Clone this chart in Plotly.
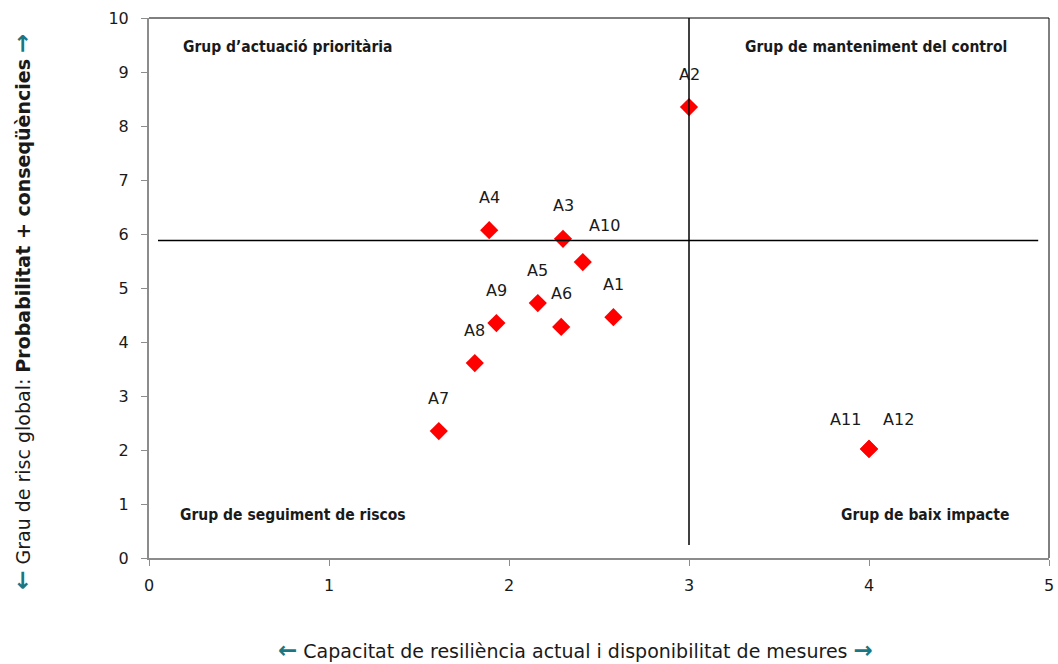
import plotly.graph_objects as go

# Risk assessment items: resilience capacity (x) vs global risk (y)
labels = ["A1", "A2", "A3", "A4", "A5", "A6", "A7", "A8", "A9", "A10", "A11", "A12"]
resilience = [2.58, 3.00, 2.30, 1.89, 2.16, 2.29, 1.61, 1.81, 1.93, 2.41, 4.00, 4.00]
risk = [4.46, 8.35, 5.91, 6.07, 4.72, 4.28, 2.35, 3.61, 4.35, 5.48, 2.02, 2.02]

# Quadrant dividers
risk_threshold = 5.88
resilience_threshold = 3.0

x_ticks = [0, 1, 2, 3, 4, 5]
y_ticks = list(range(0, 11))

quadrant_names = {
    "tl": "Grup d\u2019actuació prioritària",
    "tr": "Grup de manteniment del control",
    "bl": "Grup de seguiment de riscos",
    "br": "Grup de baix impacte",
}

# label offsets in pixels (dx, dy) relative to each marker
label_shift = {
    "A10": (22, 37), "A11": (-24, 29), "A12": (29, 29),
}

ARROW = "#1b7683"
TEXT = "#1a1a1a"
COND = "DejaVu Sans Condensed, DejaVu Sans, sans-serif"
SANS = "DejaVu Sans, sans-serif"


def arrow(ch):
    return f"<span style='color:{ARROW};font-size:23px'><b>{ch}</b></span>"


fig = go.Figure()
fig.add_trace(go.Scatter(
    x=resilience, y=risk, mode="markers",
    marker=dict(symbol="diamond", size=14, color="#ff0000", line=dict(width=0)),
    hovertext=labels, showlegend=False,
))

annotations = []
for lab, xv, yv in zip(labels, resilience, risk):
    dx, dy = label_shift.get(lab, (0, 33))
    annotations.append(dict(
        x=xv, y=yv, xref="x", yref="y", text=lab, showarrow=False,
        xshift=dx, yshift=dy, font=dict(family=SANS, size=16, color=TEXT),
    ))

# quadrant titles
qfont = dict(family=COND, size=15.5, color=TEXT)
annotations += [
    dict(x=0.18, y=9.46, xref="x", yref="y", text="<b>" + quadrant_names["tl"] + "</b>",
         showarrow=False, xanchor="left", font=qfont),
    dict(x=4.78, y=9.46, xref="x", yref="y", text="<b>" + quadrant_names["tr"] + "</b>",
         showarrow=False, xanchor="right", font=qfont),
    dict(x=0.16, y=0.8, xref="x", yref="y", text="<b>" + quadrant_names["bl"] + "</b>",
         showarrow=False, xanchor="left", font=qfont),
    dict(x=4.79, y=0.8, xref="x", yref="y", text="<b>" + quadrant_names["br"] + "</b>",
         showarrow=False, xanchor="right", font=qfont),
]

# axis titles with coloured arrows
annotations.append(dict(
    x=0.474, y=-0.170, xref="paper", yref="paper", yanchor="middle", showarrow=False,
    text=arrow("\u2190") + " Capacitat de resiliència actual i disponibilitat de mesures " + arrow("\u2192"),
    font=dict(family=SANS, size=19, color=TEXT),
))
annotations.append(dict(
    x=-0.141, y=0.456, xref="paper", yref="paper", xanchor="center", yanchor="middle",
    showarrow=False, textangle=-90,
    text=arrow("\u2190") + " Grau de risc global: <b>Probabilitat + conseqüències</b> " + arrow("\u2192"),
    font=dict(family=SANS, size=19, color=TEXT),
))

shapes = [
    dict(type="line", xref="x", yref="y", x0=0.05, x1=4.94, y0=risk_threshold, y1=risk_threshold,
         line=dict(color="black", width=1.5)),
    dict(type="line", xref="x", yref="y", x0=resilience_threshold, x1=resilience_threshold,
         y0=0.24, y1=10, line=dict(color="black", width=1.5)),
    # top and right frame
    dict(type="line", xref="paper", yref="paper", x0=0, x1=1, y0=1, y1=1,
         line=dict(color="black", width=1)),
    dict(type="line", xref="paper", yref="paper", x0=1, x1=1, y0=0, y1=1,
         line=dict(color="black", width=1)),
]

fig.update_layout(
    width=1058, height=664,
    margin=dict(l=149, r=9, t=18, b=106),
    paper_bgcolor="white", plot_bgcolor="white",
    annotations=annotations, shapes=shapes,
    xaxis=dict(range=[0, 5], tickvals=x_ticks, showgrid=False, zeroline=False,
               automargin=False,
               showline=True, linecolor="#8c8c8c", linewidth=2,
               ticks="outside", ticklen=6, tickcolor="#8c8c8c", ticklabelstandoff=6,
               tickfont=dict(family=SANS, size=16, color=TEXT)),
    yaxis=dict(range=[0, 10], tickvals=y_ticks, showgrid=False, zeroline=False,
               automargin=False,
               showline=True, linecolor="#8c8c8c", linewidth=2,
               ticks="outside", ticklen=6, tickcolor="#8c8c8c", ticklabelstandoff=9,
               tickfont=dict(family=SANS, size=16, color=TEXT)),
)

fig.write_html("out.html")
